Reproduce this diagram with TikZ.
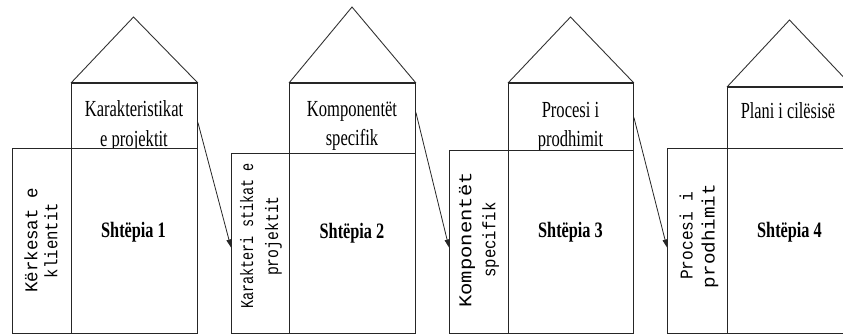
\documentclass[tikz,border=0pt]{standalone}
\usepackage{fontspec}
\setmainfont{Liberation Serif}
\newfontfamily\monof{Liberation Mono}
\usepackage{graphicx}
\usetikzlibrary{arrows.meta,calc}
\newcommand{\sxb}[2]{\scalebox{#1}[1]{#2}}
\tikzset{
  box/.style={draw=black!85, line width=0.9pt, inner sep=0pt, anchor=north west},
  roof/.style={draw=black!80, line width=0.9pt, line join=miter},
  roofbase/.style={draw=black!85, line width=1.6pt},
  toptext/.style={anchor=base, inner sep=0pt, font=\fontsize{23}{30}\selectfont},
  housetext/.style={anchor=base, inner sep=0pt, font=\fontsize{22}{26}\selectfont\bfseries},
  vtext/.style={rotate=90, align=center, inner sep=0pt, text=black},
  arr/.style={draw=black!85, line width=0.8pt, -{Triangle[length=8pt,width=5pt]}}
}
\begin{document}
\begin{tikzpicture}[x=1pt,y=-1pt]
\useasboundingbox (0,0) rectangle (843,335);
\clip (0,0) rectangle (843,335);

% ---------- House 1 ----------
\node[box, minimum width=126pt, minimum height=65pt] (top1) at (71,83) {};
\coordinate (apex1) at (133.5,17);
\draw[roof] (top1.north west) -- (apex1) -- (top1.north east);
\draw[roofbase] (top1.north west) -- (top1.north east);
\node[toptext] (t1a) at (134,116) {\sxb{0.72}{Karakteristikat}};
\node[toptext] (t1b) at (134,146) {\sxb{0.72}{e projektit}};
\node[box, fill=white, minimum width=126pt, minimum height=185pt] (main1) at (71,148) {};
\node[box, fill=white, minimum width=59pt, minimum height=185pt] (left1) at (12,148) {};
\node[housetext] (h1) at (133.5,237) {\sxb{0.74}{Shtëpia 1}};
\node[vtext, font=\monof\fontsize{18}{20}\selectfont] (v1) at (41,240.5)
  {\sxb{0.97}{Kërkesat e}\\\sxb{0.87}{klientit}};

% ---------- House 2 ----------
\node[box, minimum width=126pt, minimum height=70pt] (top2) at (289,83) {};
\coordinate (apex2) at (352,7);
\draw[roof] (top2.north west) -- (apex2) -- (top2.north east);
\draw[roofbase] (top2.north west) -- (top2.north east);
\node[toptext] (t2a) at (352,116) {\sxb{0.72}{Komponentët}};
\node[toptext] (t2b) at (352,145) {\sxb{0.72}{specifik}};
\node[box, fill=white, minimum width=126pt, minimum height=180pt] (main2) at (289,153) {};
\node[box, fill=white, minimum width=58pt, minimum height=180pt] (left2) at (231,153) {};
\node[housetext] (h2) at (352,238) {\sxb{0.74}{Shtëpia 2}};
\node[vtext, font=\monof\fontsize{18}{25}\selectfont] (v2) at (261,236)
  {\sxb{0.75}{Karakteri stikat e}\\\sxb{0.82}{projektit}};

% ---------- House 3 ----------
\node[box, minimum width=125pt, minimum height=67pt] (top3) at (508,83) {};
\coordinate (apex3) at (570.5,17);
\draw[roof] (top3.north west) -- (apex3) -- (top3.north east);
\draw[roofbase] (top3.north west) -- (top3.north east);
\node[toptext] (t3a) at (570.5,117) {\sxb{0.72}{Procesi i}};
\node[toptext] (t3b) at (570.5,146) {\sxb{0.72}{prodhimit}};
\node[box, fill=white, minimum width=125pt, minimum height=183pt] (main3) at (508,150) {};
\node[box, fill=white, minimum width=59pt, minimum height=183pt] (left3) at (449,150) {};
\node[housetext] (h3) at (570.5,237) {\sxb{0.74}{Shtëpia 3}};
\node[vtext, font=\monof\fontsize{18}{24}\selectfont] (v3) at (479,240)
  {\sxb{1.14}{Komponentët}\\\sxb{0.87}{specifik}};

% ---------- House 4 ----------
\node[box, minimum width=125pt, minimum height=61pt] (top4) at (727,87) {};
\coordinate (apex4) at (789.5,20);
\draw[roof] (top4.north west) -- (apex4) -- (top4.north east);
\draw[roofbase] (top4.north west) -- (top4.north east);
\node[toptext] (t4a) at (788,118) {\sxb{0.71}{Plani i cilësisë}};
\node[box, fill=white, minimum width=125pt, minimum height=185pt] (main4) at (727,148) {};
\node[box, fill=white, minimum width=60pt, minimum height=185pt] (left4) at (667,148) {};
\node[housetext] (h4) at (789.5,237) {\sxb{0.74}{Shtëpia 4}};
\node[vtext, font=\monof\fontsize{18}{22}\selectfont] (v4) at (699,236)
  {\sxb{0.9}{Procesi i}\\\sxb{1.07}{prodhimit}};

% ---------- Arrows ----------
\draw[arr] ([yshift=-6.5pt]top1.east) -- ([yshift=-4pt]left2.west);
\draw[arr] ([yshift=6pt]top2.east) -- ([yshift=-5.5pt]left3.west);
\draw[arr] ([yshift=-0.5pt]top3.east) -- ([yshift=-6.5pt]left4.west);
\end{tikzpicture}
\end{document}
